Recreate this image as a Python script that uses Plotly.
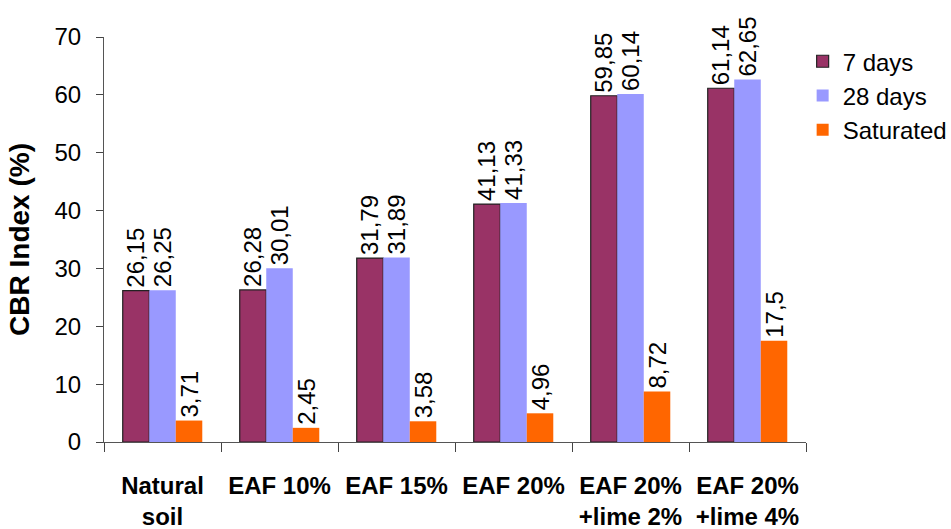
import plotly.graph_objects as go

categories = ["Natural<br>soil", "EAF 10%", "EAF 15%", "EAF 20%", "EAF 20%<br>+lime 2%", "EAF 20%<br>+lime 4%"]
days7 = [26.15, 26.28, 31.79, 41.13, 59.85, 61.14]
days28 = [26.25, 30.01, 31.89, 41.33, 60.14, 62.65]
saturated = [3.71, 2.45, 3.58, 4.96, 8.72, 17.5]
y_ticks = [0, 10, 20, 30, 40, 50, 60, 70]

FONT = "Liberation Sans, Arial, sans-serif"

def lbl(vals):
    return [("%g" % v).replace(".", ",") for v in vals]

series = [
    ("7 days", days7, "#993366", dict(color="#222222", width=1.2)),
    ("28 days", days28, "#9999FF", dict(width=0)),
    ("Saturated", saturated, "#FF6600", dict(width=0)),
]

fig = go.Figure()
for name, vals, col, line in series:
    fig.add_trace(go.Bar(
        name=name, x=categories, y=vals, marker=dict(color=col, line=line),
        text=lbl(vals), textposition="outside", textangle=-90, constraintext="none",
        cliponaxis=False, textfont=dict(family=FONT, size=24, color="black"),
    ))

fig.update_layout(
    width=951, height=529, barmode="group", bargap=0.32, bargroupgap=0,
    margin=dict(l=104, r=145, t=37, b=87, autoexpand=False),
    plot_bgcolor="white", paper_bgcolor="white",
    font=dict(family=FONT, color="black"),
    legend=dict(xref="container", yref="container", x=0.844, y=0.926,
                xanchor="left", yanchor="top",
                font=dict(size=24), tracegroupgap=0, itemwidth=30),
    showlegend=True,
)
fig.update_yaxes(range=[0, 70], tickvals=y_ticks, ticks="outside", ticklen=7,
                 showline=True, linecolor="#555555", linewidth=1.2, showgrid=False,
                 tickfont=dict(size=24), zeroline=False, ticklabelstandoff=10,
                 automargin=False,
                 title=dict(text="<b>CBR Index (%)</b>", font=dict(size=28), standoff=16))
fig.update_xaxes(ticks="outside", ticklen=9, tickson="boundaries", showline=True,
                 linecolor="#555555", linewidth=1.2, ticklabelstandoff=22, tickangle=0,
                 automargin=False,
                 tickfont=dict(size=24, family=FONT),
                 tickprefix="<b>", ticksuffix="</b>")
fig.write_html("out.html")
